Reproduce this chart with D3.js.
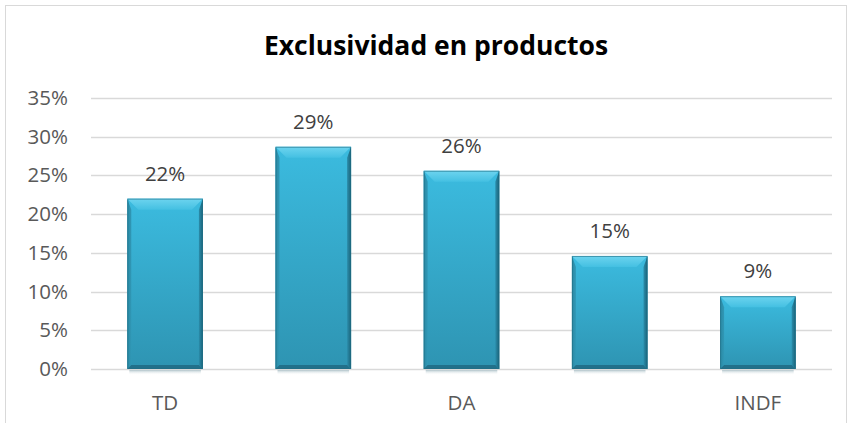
<!DOCTYPE html>
<html><head><meta charset="utf-8">
<script src="https://cdn.jsdelivr.net/npm/d3@7"></script>
<style>body{margin:0;background:#fff}svg{display:block}</style>
</head><body>
<script>
const title = "Exclusividad en productos";
const categories = ["TD", "", "DA", "", "INDF"];
const values = [0.22, 0.287, 0.256, 0.146, 0.094];
const yTicks = [0, 0.05, 0.10, 0.15, 0.20, 0.25, 0.30, 0.35];

const W = 849, H = 423;
const margin = {left: 91, right: 17, top: 98, bottom: 54};
const svg = d3.select("body").append("svg").attr("width", W).attr("height", H);

svg.append("rect").attr("x", 5.5).attr("y", 5.5).attr("width", W - 8).attr("height", H + 10)
  .attr("fill", "#fff").attr("stroke", "#d9d9d9").attr("stroke-width", 1);

const x = d3.scaleBand().domain(d3.range(categories.length))
  .range([margin.left, W - margin.right]).paddingInner(0.49).paddingOuter(0.245);
const y = d3.scaleLinear().domain([0, 0.35]).range([H - margin.bottom, margin.top]);

const defs = svg.append("defs");
function grad(id, stops, horiz) {
  const g = defs.append("linearGradient").attr("id", id)
    .attr("x1", 0).attr("y1", 0).attr("x2", horiz ? 1 : 0).attr("y2", horiz ? 0 : 1);
  stops.forEach(([o, c, op]) => g.append("stop").attr("offset", o).attr("stop-color", c).attr("stop-opacity", op == null ? 1 : op));
}
grad("body", [[0, "#3bbbdf"], [1, "#2e94b2"]]);
grad("bevel", [[0, "#6dd4ef"], [1, "#44c0e2"]]);
grad("shadow", [[0, "#9fb7bf", 0.8], [1, "#ffffff", 0]]);
grad("lside", [[0, "#2a88a3"], [1, "#3098b6"]], true);
grad("rside", [[0, "#2b8dab"], [1, "#1a6379"]], true);

// gridlines
svg.append("g").selectAll("line").data(yTicks).join("line")
  .attr("x1", margin.left).attr("x2", W - margin.right)
  .attr("y1", d => Math.round(y(d)) + 0.5).attr("y2", d => Math.round(y(d)) + 0.5)
  .attr("stroke", "#d9d9d9").attr("stroke-width", 1.3);

const font = "Open Sans, sans-serif";
// y axis labels
const yAxis = d3.axisLeft(y).tickValues(yTicks).tickFormat(d3.format(".0%")).tickSize(0).tickPadding(23);
const ya = svg.append("g").attr("transform", `translate(${margin.left},0)`).call(yAxis);
ya.select(".domain").remove();
ya.selectAll("text").attr("font-family", font).attr("font-size", 20.5).attr("fill", "#595959");

// x axis labels
const xAxis = d3.axisBottom(x).tickFormat(i => categories[i]).tickSize(0).tickPadding(26);
const xa = svg.append("g").attr("transform", `translate(0,${H - margin.bottom})`).call(xAxis);
xa.select(".domain").remove();
xa.selectAll("text").attr("font-family", font).attr("font-size", 20.5).attr("fill", "#595959");

// bars
const bars = svg.append("g").selectAll("g").data(values).join("g");
const bw = x.bandwidth(), bev = 11, side = 4;
bars.append("rect").attr("x", (d, i) => x(i) + 2).attr("y", y(0) + 1)
  .attr("width", bw - 4).attr("height", 5).attr("fill", "url(#shadow)");
bars.append("rect").attr("x", (d, i) => x(i)).attr("y", d => y(d))
  .attr("width", bw).attr("height", d => y(0) - y(d)).attr("fill", "url(#body)");
bars.append("polygon").attr("points", (d, i) => {
  const x0 = x(i), y0 = y(d), yb = y(0);
  return [[x0, y0], [x0 + side, y0 + bev], [x0 + side, yb - side], [x0, yb]].join(" ");
}).attr("fill", "url(#lside)");
bars.append("polygon").attr("points", (d, i) => {
  const x0 = x(i) + bw, y0 = y(d), yb = y(0);
  return [[x0, y0], [x0 - side, y0 + bev], [x0 - side, yb - side], [x0, yb]].join(" ");
}).attr("fill", "url(#rside)");
bars.append("polygon").attr("points", (d, i) => {
  const x0 = x(i), yb = y(0);
  return [[x0, yb], [x0 + side, yb - side], [x0 + bw - side, yb - side], [x0 + bw, yb]].join(" ");
}).attr("fill", "#22708a");
bars.append("polygon").attr("points", (d, i) => {
  const x0 = x(i), y0 = y(d);
  return [[x0, y0], [x0 + bw, y0], [x0 + bw - bev, y0 + bev], [x0 + bev, y0 + bev]].join(" ");
}).attr("fill", "url(#bevel)");
bars.append("rect").attr("x", (d, i) => x(i) + 0.5).attr("y", d => y(d) + 0.5)
  .attr("width", bw - 1).attr("height", d => y(0) - y(d) - 1)
  .attr("fill", "none").attr("stroke", "#1f6d84").attr("stroke-opacity", 0.6).attr("stroke-width", 1);

// value labels
svg.append("g").selectAll("text").data(values).join("text")
  .attr("x", (d, i) => x(i) + bw / 2).attr("y", d => y(d) - 18)
  .attr("text-anchor", "middle").attr("font-family", font)
  .attr("font-size", 20.5).attr("fill", "#404040")
  .text(d => d3.format(".0%")(d));

// title
svg.append("text").attr("x", 436).attr("y", 55).attr("text-anchor", "middle")
  .attr("font-family", font).attr("font-weight", "bold")
  .attr("font-size", 26.5).attr("fill", "#000").text(title);
</script>
</body></html>
